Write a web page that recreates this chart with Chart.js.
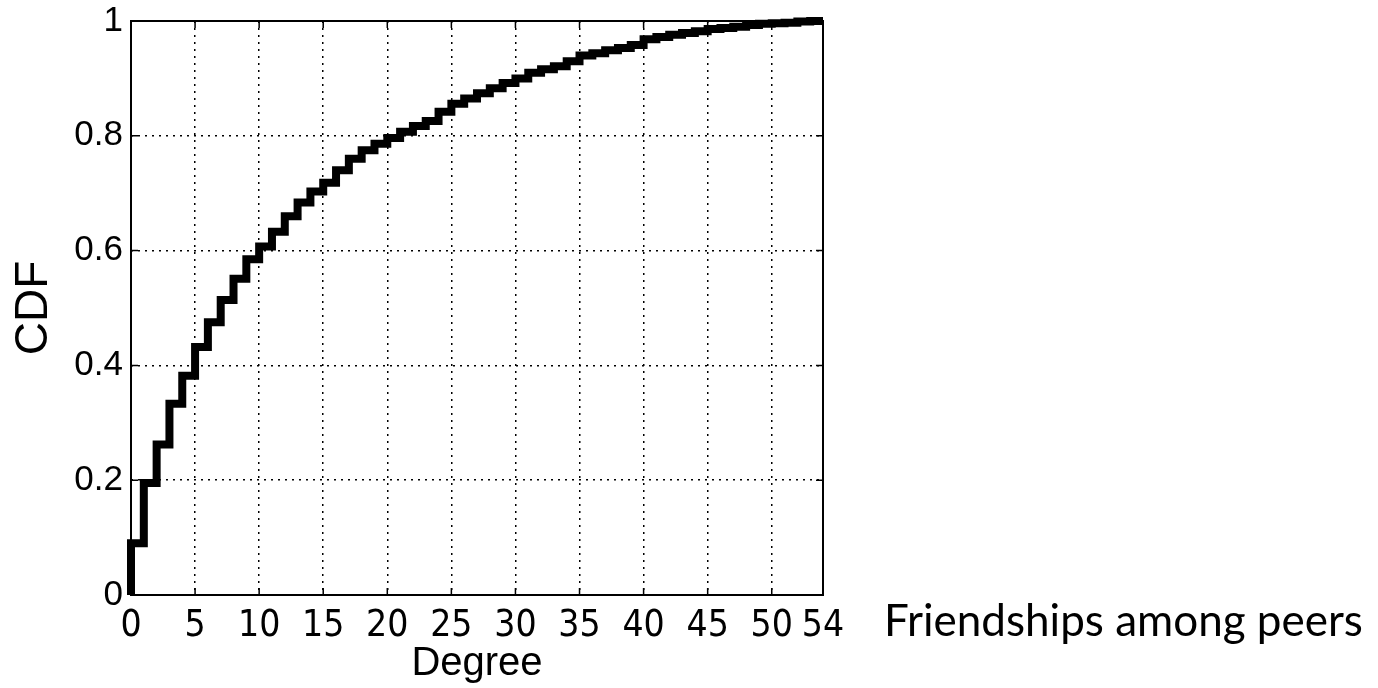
<!DOCTYPE html>
<html><head><meta charset="utf-8">
<script src="https://cdn.jsdelivr.net/npm/chart.js@4/dist/chart.umd.min.js"></script>
<style>html,body{margin:0;padding:0;background:#fff}#wrap{width:1378px;height:688px}</style>
</head><body><div id="wrap"><canvas id="c" width="1378" height="688"></canvas></div>
<script>
const degrees = [0,1,2,3,4,5,6,7,8,9,10,11,12,13,14,15,16,17,18,19,20,21,22,23,24,25,26,27,28,29,30,31,32,33,34,35,36,37,38,39,40,41,42,43,44,45,46,47,48,49,50,51,52,53,54];
const cdfValues = [0.09,0.195,0.262,0.333,0.382,0.432,0.475,0.514,0.551,0.585,0.607,0.633,0.66,0.684,0.703,0.718,0.74,0.76,0.775,0.786,0.796,0.807,0.817,0.826,0.842,0.856,0.865,0.874,0.883,0.892,0.9,0.91,0.916,0.921,0.93,0.94,0.944,0.949,0.953,0.958,0.968,0.972,0.976,0.979,0.982,0.986,0.988,0.99,0.993,0.995,0.996,0.997,0.999,1.0,1.0];
const xTicks = [0,5,10,15,20,25,30,35,40,45,50,54];
const yTicks = [0,0.2,0.4,0.6,0.8,1];
const xTitle = 'Degree';
const yTitle = 'CDF';
const caption = 'Friendships among peers';

const points = [{x:0,y:0}].concat(degrees.map((d,i)=>({x:d,y:cdfValues[i]})));

const decor = {
  id:'decor',
  afterDraw(chart){
    const {ctx, chartArea:a, scales:{x,y}} = chart;
    ctx.save();
    ctx.strokeStyle='#000';
    ctx.lineWidth=1.5;
    xTicks.forEach(v=>{
      if(v===0||v===54) return;
      const px=x.getPixelForValue(v);
      ctx.beginPath();ctx.moveTo(px,a.bottom);ctx.lineTo(px,a.bottom-7);ctx.moveTo(px,a.top);ctx.lineTo(px,a.top+7);ctx.stroke();
    });
    yTicks.forEach(v=>{
      if(v===0||v===1) return;
      const py=y.getPixelForValue(v);
      ctx.beginPath();ctx.moveTo(a.left,py);ctx.lineTo(a.left+7,py);ctx.moveTo(a.right,py);ctx.lineTo(a.right-7,py);ctx.stroke();
    });
    ctx.lineWidth=2;
    ctx.strokeRect(a.left,a.top,a.right-a.left,a.bottom-a.top);
    ctx.fillStyle='#000';
    ctx.font='44px Lato, "Open Sans", sans-serif';
    ctx.textBaseline='alphabetic';
    ctx.textAlign='left';
    ctx.fillText(caption, 884, 636);
    ctx.restore();
  }
};

new Chart(document.getElementById('c'),{
  type:'line',
  data:{datasets:[{data:points,borderColor:'#000',borderWidth:8,pointRadius:0,stepped:true,fill:false,borderJoinStyle:'miter',borderCapStyle:'butt',clip:false}]},
  options:{
    responsive:false,animation:false,
    layout:{padding:{left:0,top:21,right:555,bottom:0}},
    plugins:{legend:{display:false},tooltip:{enabled:false}},
    scales:{
      x:{type:'linear',min:0,max:54,
        afterBuildTicks(s){s.ticks=xTicks.map(v=>({value:v}));},
        afterFit(s){s.height=93;s.paddingLeft=0;s.paddingRight=0;},
        grid:{color:c=>(c.tick&&(c.tick.value===0||c.tick.value===54))?'rgba(0,0,0,0)':'#000',lineWidth:1.5,tickLength:0,drawTicks:false},
        border:{display:false,dash:[2,5]},
        ticks:{color:'#000',padding:9,maxRotation:0,autoSkip:false,font:{family:'"Liberation Sans Narrow","DejaVu Sans Condensed","Liberation Sans",Arial',size:37},callback:v=>String(v)},
        title:{display:true,text:xTitle,color:'#000',padding:{top:0,bottom:0},font:{family:'"Liberation Sans",Arial',size:40}}
      },
      y:{type:'linear',min:0,max:1,
        afterBuildTicks(s){s.ticks=yTicks.map(v=>({value:v}));},
        afterFit(s){s.width=131;s.paddingTop=0;s.paddingBottom=0;},
        grid:{color:c=>(c.tick&&(c.tick.value===0||c.tick.value===1))?'rgba(0,0,0,0)':'#000',lineWidth:1.5,tickLength:0,drawTicks:false},
        border:{display:false,dash:[2,5]},
        ticks:{color:'#000',padding:8,autoSkip:false,font:{family:'"Liberation Sans",Arial',size:35},callback:v=>String(v)},
        title:{display:true,text:yTitle,color:'#000',padding:{top:7,bottom:0},font:{family:'"Liberation Sans",Arial',size:46}}
      }
    }
  },
  plugins:[decor]
});
</script></body></html>
